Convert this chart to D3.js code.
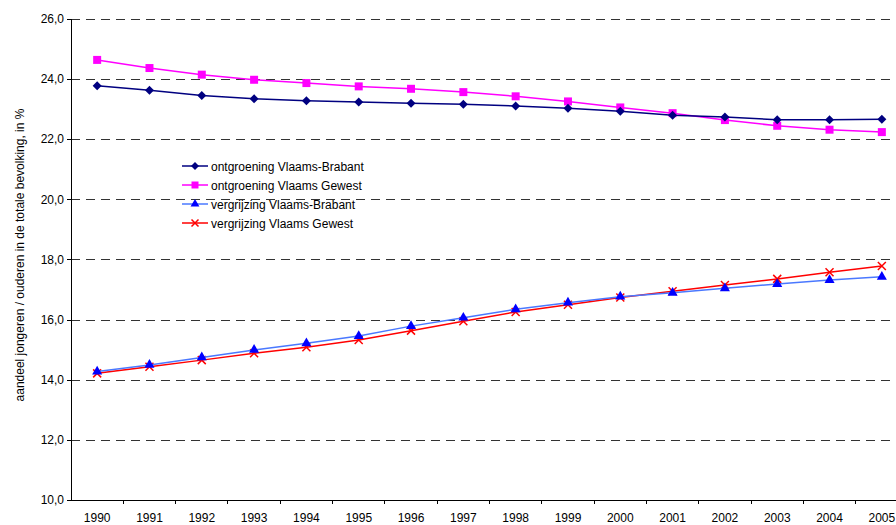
<!DOCTYPE html>
<html>
<head>
<meta charset="utf-8">
<script src="https://cdn.jsdelivr.net/npm/d3@7"></script>
<style>
body { margin:0; background:#fff; }
text { font-family: Arial, "Liberation Sans", sans-serif; }
</style>
</head>
<body>
<script>
var years = ['1990','1991','1992','1993','1994','1995','1996','1997','1998','1999','2000','2001','2002','2003','2004','2005'];
var yTicks = [10,12,14,16,18,20,22,24,26];

var ontgroeningVB = [23.77,23.62,23.45,23.34,23.27,23.23,23.19,23.16,23.10,23.02,22.92,22.79,22.73,22.64,22.64,22.66];
var ontgroeningVG = [24.63,24.36,24.14,23.97,23.86,23.75,23.67,23.56,23.42,23.25,23.05,22.86,22.63,22.44,22.31,22.23];
var vergrijzingVB = [14.27,14.49,14.74,14.99,15.21,15.45,15.78,16.06,16.34,16.56,16.76,16.89,17.04,17.18,17.31,17.42];
var vergrijzingVG = [14.21,14.43,14.65,14.88,15.08,15.32,15.63,15.94,16.25,16.49,16.73,16.94,17.15,17.35,17.57,17.78];

var seriesNames = ['ontgroening Vlaams-Brabant','ontgroening Vlaams Gewest','vergrijzing Vlaams-Brabant','vergrijzing Vlaams Gewest'];

var series = [
	{name:seriesNames[0], values:ontgroeningVB, line:'#000080', fill:'#000080', sym:'diamond'},
	{name:seriesNames[1], values:ontgroeningVG, line:'#ff00ff', fill:'#ff00ff', sym:'square'},
	{name:seriesNames[2], values:vergrijzingVB, line:'#4a78ff', fill:'#0000ff', sym:'triangle'},
	{name:seriesNames[3], values:vergrijzingVG, line:'#ff0000', fill:'#ff0000', sym:'cross'}
];

var width = 896, height = 525;
var margin = {left:71, right:908, top:18.7, bottom:500};

var svg = d3.select('body').append('svg').attr('width',width).attr('height',height);

var x = d3.scaleBand().domain(years).range([margin.left,margin.right]).padding(0);
var y = d3.scaleLinear().domain([10,26]).range([margin.bottom,margin.top]);

// gridlines
svg.append('g').selectAll('line')
	.data(yTicks.filter(d=>d>10))
	.enter().append('line')
		.attr('x1',margin.left).attr('x2',width)
		.attr('y1',d=>Math.round(y(d))+0.5).attr('y2',d=>Math.round(y(d))+0.5)
		.attr('stroke','#333').attr('stroke-width',1)
		.attr('stroke-dasharray','9,6');

// y axis
var yAxis = svg.append('g')
	.attr('transform',`translate(${margin.left},0)`)
	.call(d3.axisLeft(y).tickValues(yTicks).tickSize(4).tickPadding(3)
		.tickFormat(d=>d3.format('.1f')(d).replace('.',',')));
yAxis.select('.domain').attr('stroke','#000').attr('shape-rendering','crispEdges');
yAxis.selectAll('.tick line').attr('shape-rendering','crispEdges');
yAxis.selectAll('text').attr('font-size',12).attr('fill','#000');

// x axis
var xAxis = svg.append('g')
	.attr('transform',`translate(0,${margin.bottom})`)
	.call(d3.axisBottom(x).tickSize(0).tickPadding(13));
xAxis.select('.domain').attr('stroke','#000').attr('d',`M${margin.left},0H${margin.right}`).attr('shape-rendering','crispEdges');
xAxis.selectAll('text').attr('font-size',12).attr('fill','#000');
// ticks between categories
svg.append('g').selectAll('line')
	.data(years.slice(1))
	.enter().append('line')
		.attr('x1',d=>x(d)).attr('x2',d=>x(d))
		.attr('y1',margin.bottom).attr('y2',margin.bottom+4)
		.attr('stroke','#000').attr('shape-rendering','crispEdges');

// y axis title
svg.append('text')
	.attr('transform','translate(24,255) rotate(-90)')
	.attr('text-anchor','middle')
	.attr('font-size',12)
	.text('aandeel jongeren / ouderen in de totale bevolking, in %');

var line = d3.line()
	.x((d,i)=>x(years[i])+x.bandwidth()/2)
	.y(d=>y(d));

function marker(g, sym, color, size){
	var s = size/2;
	if(sym==='cross'){
		g.append('path').attr('d',`M${-s},${-s}L${s},${s}M${-s},${s}L${s},${-s}`)
			.attr('stroke',color).attr('stroke-width',1.5).attr('fill','none');
	} else if(sym==='diamond'){
		var r = s+0.5;
		g.append('path').attr('d',`M0,${-r}L${r},0L0,${r}L${-r},0Z`).attr('fill',color);
	} else {
		var t = {square:d3.symbolSquare, triangle:d3.symbolTriangle}[sym];
		var area = {square:64, triangle:44}[sym];
		g.append('path').attr('d',d3.symbol().type(t).size(area*(size/8)*(size/8))())
			.attr('fill',color);
	}
}

// draw order: red first so blue triangles sit on top as in reference
[3,2,1,0].forEach(k=>{
	var s = series[k];
	var g = svg.append('g');
	g.append('path')
		.attr('d',line(s.values))
		.attr('fill','none')
		.attr('stroke',s.line)
		.attr('stroke-width',1.5);
	s.values.forEach((v,i)=>{
		var m = g.append('g').attr('transform',`translate(${x(years[i])+x.bandwidth()/2},${y(v)})`);
		marker(m, s.sym, s.fill, 8);
	});
});

// legend
var legend = svg.append('g').attr('transform','translate(182,166)');
series.forEach((s,i)=>{
	var row = legend.append('g').attr('transform',`translate(0,${i*19})`);
	row.append('line').attr('x1',0).attr('x2',26).attr('y1',0).attr('y2',0)
		.attr('stroke',s.line).attr('stroke-width',1.5);
	var m = row.append('g').attr('transform','translate(13,0)');
	marker(m, s.sym, s.fill, 7);
	row.append('text').attr('x',29).attr('y',4.5).attr('font-size',12).text(s.name);
});
</script>
</body>
</html>
